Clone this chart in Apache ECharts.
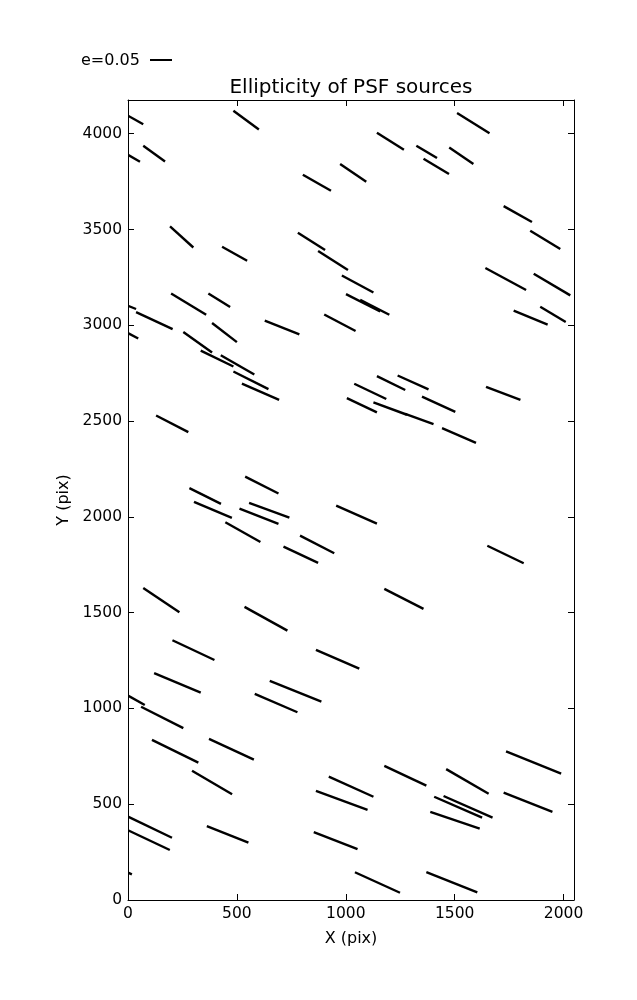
<!DOCTYPE html>
<html>
<head>
<meta charset="utf-8">
<script src="https://cdn.jsdelivr.net/npm/echarts@6/dist/echarts.min.js"></script>
<style>
html,body{margin:0;padding:0;background:#fff;}
#chart{width:637px;height:1000px;}
</style>
</head>
<body>
<div id="chart"></div>
<script>
// Whisker endpoints (data units, pixels of the detector)
const x1 = [0,484,70,0,803,974,1143,1324,1357,1475,1511,193,432,780,873,982,1725,1847,1641,1863,198,369,1001,1066,0,37,0,254,386,628,901,1771,1893,334,426,484,523,1039,1143,1238,1644,1005,1127,1273,1350,129,1442,538,282,303,556,512,956,447,790,714,1650,70,535,1177,204,863,120,651,582,0,60,110,372,1736,294,922,863,1177,1461,1406,1449,1388,1725,0,0,362,853,1042,1370,0];
const y1 = [4094,4120,3937,3890,3786,3842,4005,3937,3869,3928,4108,3516,3410,3483,3388,3260,3622,3494,3299,3269,3166,3166,3163,3133,3102,3069,2959,2965,3012,3024,3056,3076,3097,2868,2844,2759,2695,2695,2735,2738,2679,2620,2597,2538,2628,2529,2463,2210,2150,2078,2073,2043,2059,1972,1902,1845,1849,1628,1530,1624,1356,1306,1184,1144,1076,1067,1009,836,841,776,675,644,569,700,683,539,543,460,560,435,364,386,354,145,145,143];
const x2 = [70,601,170,55,932,1094,1267,1419,1474,1586,1660,300,547,905,1010,1127,1855,1985,1828,2031,359,469,1158,1200,37,205,47,386,500,787,1045,1927,2010,484,580,645,694,1186,1273,1380,1802,1143,1281,1403,1503,277,1598,691,427,477,741,691,1143,608,947,873,1817,236,732,1357,397,1062,334,888,778,77,254,323,578,1989,478,1127,1100,1370,1656,1626,1674,1615,1949,202,192,553,1054,1249,1604,18];
const y2 = [4049,4022,3855,3854,3702,3749,3916,3873,3790,3842,4002,3406,3337,3393,3288,3171,3539,3398,3184,3156,3055,3095,3072,3055,3085,2980,2931,2858,2912,2952,2970,3004,3017,2785,2743,2667,2611,2615,2662,2665,2611,2545,2533,2484,2548,2442,2386,2122,2068,1995,1996,1963,1965,1869,1810,1760,1758,1502,1406,1520,1253,1208,1083,1036,980,1018,897,717,733,660,552,539,470,597,555,430,430,372,460,325,261,299,265,38,40,134];

// Axes / ticks
const xTicks = [0, 500, 1000, 1500, 2000];
const yTicks = [0, 500, 1000, 1500, 2000, 2500, 3000, 3500, 4000];
const xMax = 2048;
const yMax = 4176;

// Text
const titleText = 'Ellipticity of PSF sources';
const xName = 'X (pix)';
const yName = 'Y (pix)';
const keyLabel = 'e=0.05';

const segs = x1.map((v, i) => [v, y1[i], x2[i], y2[i]]);

const FONT = 'DejaVu Sans';
const chart = echarts.init(document.getElementById('chart'), null, {renderer: 'canvas'});

function labelCfg(show, ticks) {
  return {show: show, customValues: ticks, color: '#000', fontSize: 15.5, fontFamily: FONT, margin: 6,
    formatter: function (v) { return String(v); }};
}
function axisCommon(showLabel, ticks) {
  return {
    axisLine: {show: true, onZero: false, lineStyle: {color: '#000', width: 1}},
    axisTick: {show: true, inside: true, length: 6, lineStyle: {color: '#000', width: 1}, customValues: ticks},
    axisLabel: labelCfg(showLabel, ticks),
    splitLine: {show: false}
  };
}

chart.setOption({
  animation: false,
  backgroundColor: '#fff',
  title: {
    text: titleText,
    left: 351, top: 78, textAlign: 'center', padding: 0,
    textStyle: {fontSize: 20, fontWeight: 'normal', fontFamily: FONT, color: '#000'}
  },
  grid: {left: 128, right: 63, top: 100, bottom: 100, containLabel: false},
  xAxis: [
    Object.assign({type: 'value', min: 0, max: xMax, position: 'bottom',
      name: xName, nameLocation: 'middle', nameGap: 31,
      nameTextStyle: {fontSize: 16, fontFamily: FONT, color: '#000'}}, axisCommon(true, xTicks)),
    Object.assign({type: 'value', min: 0, max: xMax, position: 'top'}, axisCommon(false, xTicks))
  ],
  yAxis: [
    Object.assign({type: 'value', min: 0, max: yMax, position: 'left',
      name: yName, nameLocation: 'middle', nameGap: 51,
      nameTextStyle: {fontSize: 16, fontFamily: FONT, color: '#000'}}, axisCommon(true, yTicks)),
    Object.assign({type: 'value', min: 0, max: yMax, position: 'right'}, axisCommon(false, yTicks))
  ],
  graphic: [
    {type: 'text', left: 81, top: 53, style: {text: keyLabel, fontSize: 16, fontFamily: FONT, fill: '#000'}},
    {type: 'line', shape: {x1: 150, y1: 60, x2: 172, y2: 60}, style: {stroke: '#000', lineWidth: 2}}
  ],
  series: [{
    type: 'custom',
    coordinateSystem: 'cartesian2d',
    clip: true,
    encode: {x: [0, 2], y: [1, 3]},
    data: segs,
    renderItem: function (params, api) {
      const a = api.coord([api.value(0), api.value(1)]);
      const b = api.coord([api.value(2), api.value(3)]);
      return {
        type: 'line',
        shape: {x1: a[0], y1: a[1], x2: b[0], y2: b[1]},
        style: {stroke: '#000', lineWidth: 2.4, lineCap: 'butt'}
      };
    }
  }]
});
</script>
</body>
</html>
